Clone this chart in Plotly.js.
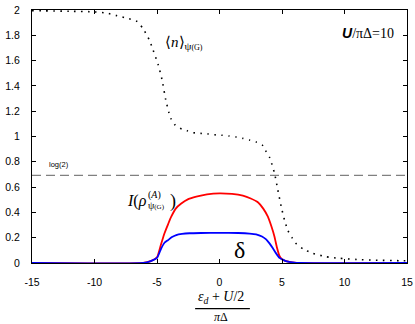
<!DOCTYPE html>
<html><head><meta charset="utf-8">
<script src="https://cdn.plot.ly/plotly-3.0.1.min.js"></script>
<style>html,body{margin:0;padding:0;background:#fff;}#chart{width:415px;height:324px;}</style>
</head><body><div id="chart"></div>
<script>
// <n> occupation (dotted)
const nX = [-15,-12,-10,-9,-8.2,-7.4,-6.6,-6.1,-5.6,-5.3,-4.9,-4.6,-4.3,-4.05,-3.9,-3.6,-3.15,-2.6,-2.1,-1.5,-0.9,-0.4,0.2,0.75,1.33,1.87,2.4,2.93,3.42,3.73,4.0,4.1,4.4,4.66,4.94,5.2,5.46,5.8,6.1,6.7,7.46,8.5,9.6,11,12.5,14.4,15];
const nY = [1.995,1.99,1.985,1.975,1.955,1.935,1.91,1.85,1.76,1.68,1.565,1.45,1.29,1.19,1.144,1.096,1.065,1.046,1.03,1.025,1.02,1.014,1.01,1.004,0.996,0.985,0.972,0.957,0.933,0.88,0.836,0.81,0.71,0.58,0.445,0.34,0.26,0.2,0.156,0.11,0.077,0.05,0.037,0.028,0.022,0.018,0.017];
// mutual information I (red)
const iX = [-15,-6.1,-5.5,-5.0,-4.7,-4.4,-4.1,-3.86,-3.5,-3.06,-2.5,-1.86,-1,0,1,1.87,2.5,3.07,3.5,3.87,4.15,4.4,4.6,4.8,5.0,5.5,6.2,15];
const iY = [0,0,0.015,0.045,0.14,0.235,0.31,0.366,0.43,0.47,0.505,0.525,0.543,0.551,0.546,0.532,0.51,0.48,0.43,0.366,0.29,0.208,0.12,0.055,0.03,0.01,0,0];
// delta (blue)
const dX = [-15,-6.1,-5.5,-5.0,-4.66,-4.4,-4.13,-3.8,-3.46,-3.0,-2.4,-1.5,0,1.5,2.4,2.93,3.4,3.73,4.0,4.27,4.5,4.8,5.0,5.3,5.86,6.4,15];
const dY = [0,0,0.015,0.04,0.116,0.16,0.18,0.205,0.221,0.23,0.235,0.237,0.238,0.237,0.233,0.227,0.21,0.187,0.155,0.116,0.08,0.04,0.03,0.015,0.005,0,0];
// log(2) reference line
const refX = [-15,15];
const refY = [Math.log(2), Math.log(2)];
const xTicks = [-15,-10,-5,0,5,10,15];
const yTicks = [0,0.2,0.4,0.6,0.8,1,1.2,1.4,1.6,1.8,2];
const yTickText = ['0','0.2','0.4','0.6','0.8','1','1.2','1.4','1.6','1.8','2'];

const serif = 'Liberation Serif, Times New Roman, serif';
const sans = 'Liberation Sans, Arial, sans-serif';

const traces = [
  {x: refX, y: refY, mode:'lines', line:{color:'#808080', width:1.2, dash:'9px,5px'}, hoverinfo:'skip'},
  {x: nX, y: nY, mode:'lines', line:{color:'#000', width:1.6, dash:'1.6px,5.4px', shape:'spline', smoothing:0.6}},
  {x: iX, y: iY, mode:'lines', line:{color:'#ff0000', width:1.8, shape:'spline', smoothing:0.5}},
  {x: dX, y: dY, mode:'lines', line:{color:'#0000ff', width:1.8, shape:'spline', smoothing:0.5}}
];

const axBase = {showgrid:false, zeroline:false, showline:true, linecolor:'#000', linewidth:1,
  mirror:'ticks', ticks:'inside', ticklen:4, tickcolor:'#000', tickwidth:1,
  tickfont:{family:sans, size:10.5, color:'#000'}};

const layout = {
  width:415, height:324,
  margin:{l:32, r:8, t:10, b:61},
  paper_bgcolor:'#fff', plot_bgcolor:'#fff',
  showlegend:false,
  xaxis: Object.assign({}, axBase, {range:[-15,15], tickvals:xTicks, ticktext:xTicks.map(String), ticklabelstandoff:9}),
  yaxis: Object.assign({}, axBase, {range:[0,2], tickvals:yTicks, ticktext:yTickText, ticklabelstandoff:9}),
  annotations: [
    {xref:'x', yref:'y', x:14.1, y:1.82, xanchor:'right', yanchor:'middle', showarrow:false,
     text:'<b><i><span style="font-family:Liberation Sans">U</span></i></b>/πΔ=10', font:{family:serif, size:14, color:'#000'}},
    {xref:'x', yref:'y', x:-4.55, y:1.74, xanchor:'left', yanchor:'middle', showarrow:false,
     text:'⟨<i>n</i>⟩<sub><span style="font-size:11px">ψ</span><span style="font-size:8px">(G)</span></sub>', font:{family:serif, size:15, color:'#000'}},
    {xref:'x', yref:'y', x:-13.8, y:0.78, xanchor:'left', yanchor:'middle', showarrow:false,
     text:'log(2)', font:{family:sans, size:7.5, color:'#000'}},
    {xref:'x', yref:'y', x:-7.6, y:0.49, xanchor:'left', yanchor:'middle', showarrow:false,
     text:'<i>I</i>(<i>ρ</i>', font:{family:serif, size:16, color:'#000'}},
    {xref:'x', yref:'y', x:-5.9, y:0.535, xanchor:'left', yanchor:'middle', showarrow:false,
     text:'(<i>A</i>)', font:{family:serif, size:10, color:'#000'}},
    {xref:'x', yref:'y', x:-5.9, y:0.455, xanchor:'left', yanchor:'middle', showarrow:false,
     text:'ψ<span style="font-size:7px">(G)</span>', font:{family:serif, size:10, color:'#000'}},
    {xref:'x', yref:'y', x:-4.1, y:0.49, xanchor:'left', yanchor:'middle', showarrow:false,
     text:')', font:{family:serif, size:18, color:'#000'}},
    {xref:'x', yref:'y', x:1.6, y:0.105, xanchor:'center', yanchor:'middle', showarrow:false,
     text:'δ', font:{family:serif, size:24, color:'#000'}},
    {xref:'paper', yref:'paper', x:0.505, y:-0.138, xanchor:'center', yanchor:'middle', showarrow:false,
     text:'<i>ε<sub>d</sub></i> + <i>U</i>/2', font:{family:serif, size:14, color:'#000'}},
    {xref:'paper', yref:'paper', x:0.505, y:-0.212, xanchor:'center', yanchor:'middle', showarrow:false,
     text:'<i>π</i>Δ', font:{family:serif, size:12, color:'#000'}}
  ],
  shapes: [
    {type:'line', xref:'paper', yref:'paper', x0:0.435, x1:0.581, y0:-0.18, y1:-0.18, line:{color:'#000', width:1.3}}
  ]
};

Plotly.newPlot('chart', traces, layout, {displayModeBar:false, staticPlot:true});
</script>
</body></html>
